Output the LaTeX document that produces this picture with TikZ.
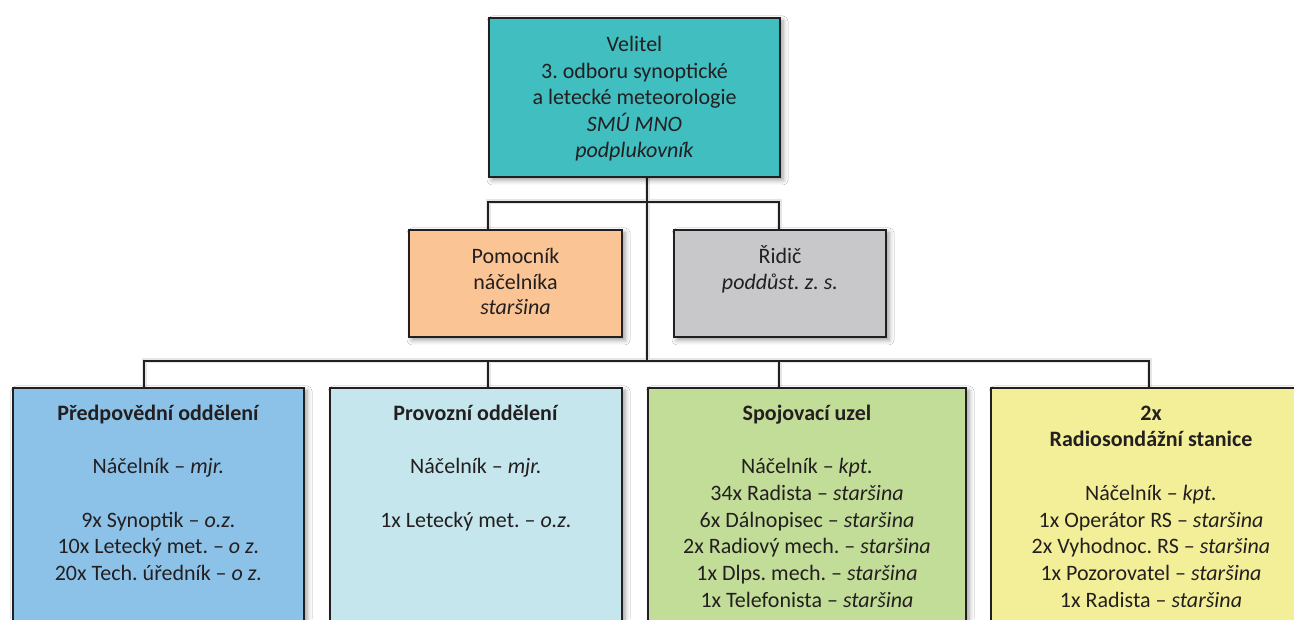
\documentclass[tikz,border=0pt]{standalone}
\usepackage{fontspec}
\setmainfont{Carlito}
\usetikzlibrary{shadows.blur,backgrounds}

\definecolor{ink}{HTML}{231F20}
\definecolor{teal}{HTML}{40BEC0}
\definecolor{peach}{HTML}{FAC494}
\definecolor{stone}{HTML}{C8C8CA}
\definecolor{sky}{HTML}{8DC2E8}
\definecolor{ice}{HTML}{C4E6EC}
\definecolor{leaf}{HTML}{C2DD98}
\definecolor{lemon}{HTML}{F2EF98}

\tikzset{
  unit/.style={draw=ink, line width=2pt, inner sep=0pt, anchor=north west, text=ink,
    blur shadow={shadow xshift=3pt, shadow yshift=-3pt, shadow blur radius=5pt, shadow opacity=40}},
  conn/.style={draw=ink, line width=2pt},
  connshade/.style={draw=black!10, line width=5pt, xshift=2pt, yshift=-2pt},
}

% box text: width, height, first baseline offset, line pitch, lines
\newcommand{\boxtxt}[5]{%
  \parbox[c][#2][t]{#1}{\centering\frenchspacing\lineskiplimit=-20pt\fontsize{22}{#4}\selectfont\rule{0pt}{#3}#5\par}}

\begin{document}
\begin{tikzpicture}[x=1pt,y=1pt]
\clip (0,0) rectangle (1294,619);

% commander
\node[unit, fill=teal] (velitel) at (488,602)
  {\boxtxt{291pt}{159pt}{34pt}{26.5pt}{Velitel\\3. odboru synoptické\\a letecké meteorologie\\\textit{SMÚ MNO}\\\textit{podplukovník}}};

% staff
\node[unit, fill=peach] (pomoc) at (408,390)
  {\boxtxt{213pt}{107pt}{34pt}{25.5pt}{Pomocník\\náčelníka\\\textit{staršina}}};
\node[unit, fill=stone] (ridic) at (673,390)
  {\boxtxt{212pt}{107pt}{34pt}{25.5pt}{Řidič\\\textit{poddůst. z. s.}}};

% departments
\node[unit, fill=sky] (pred) at (12,232)
  {\boxtxt{291pt}{260pt}{32pt}{26.8pt}{\textbf{Předpovědní oddělení}\\[26.8pt]Náčelník – \textit{mjr.}\\[26.8pt]9x Synoptik – \textit{o.z.}\\10x Letecký met. – \textit{o z.}\\20x Tech. úředník – \textit{o z.}}};
\node[unit, fill=ice] (prov) at (329,232)
  {\boxtxt{292pt}{260pt}{32pt}{26.8pt}{\textbf{Provozní oddělení}\\[26.8pt]Náčelník – \textit{mjr.}\\[26.8pt]1x Letecký met. – \textit{o.z.}}};
\node[unit, fill=leaf] (spoj) at (647,232)
  {\boxtxt{318pt}{260pt}{32pt}{26.8pt}{\textbf{Spojovací uzel}\\[26.8pt]Náčelník – \textit{kpt.}\\34x Radista – \textit{staršina}\\6x Dálnopisec – \textit{staršina}\\2x Radiový mech. – \textit{staršina}\\1x Dlps. mech. – \textit{staršina}\\1x Telefonista – \textit{staršina}}};
\node[unit, fill=lemon] (radio) at (990,232)
  {\boxtxt{320pt}{260pt}{32pt}{26.8pt}{\textbf{2x}\\\textbf{Radiosondážní stanice}\\[26.8pt]Náčelník – \textit{kpt.}\\1x Operátor RS – \textit{staršina}\\2x Vyhodnoc. RS – \textit{staršina}\\1x Pozorovatel – \textit{staršina}\\1x Radista – \textit{staršina}}};

% junction points of the tree
\coordinate (j2) at (647,417);
\coordinate (j3) at (647,258);
\coordinate (s2a) at (488,417);
\coordinate (s2b) at (779,417);
\coordinate (b1) at (144,258);
\coordinate (b2) at (488,258);
\coordinate (b3) at (779,258);
\coordinate (b4) at (1149,258);

\begin{scope}[on background layer]
  \fill[white] (0,0) rectangle (1294,619);
  \begin{scope}[connshade]
    \draw (velitel.south -| j2) -- (j3);
    \draw (pomoc.north -| s2a) -- (s2a) -- (s2b) -- (ridic.north -| s2b);
    \draw (pred.north -| b1) -- (b1) -- (b4) -- (radio.north -| b4);
    \draw (prov.north -| b2) -- (b2);
    \draw (spoj.north -| b3) -- (b3);
  \end{scope}
  \draw[conn] (velitel.south -| j2) -- (j3);
  \draw[conn] (pomoc.north -| s2a) -- (s2a) -- (s2b) -- (ridic.north -| s2b);
  \draw[conn] (pred.north -| b1) -- (b1) -- (b4) -- (radio.north -| b4);
  \draw[conn] (prov.north -| b2) -- (b2);
  \draw[conn] (spoj.north -| b3) -- (b3);
\end{scope}
\end{tikzpicture}
\end{document}
